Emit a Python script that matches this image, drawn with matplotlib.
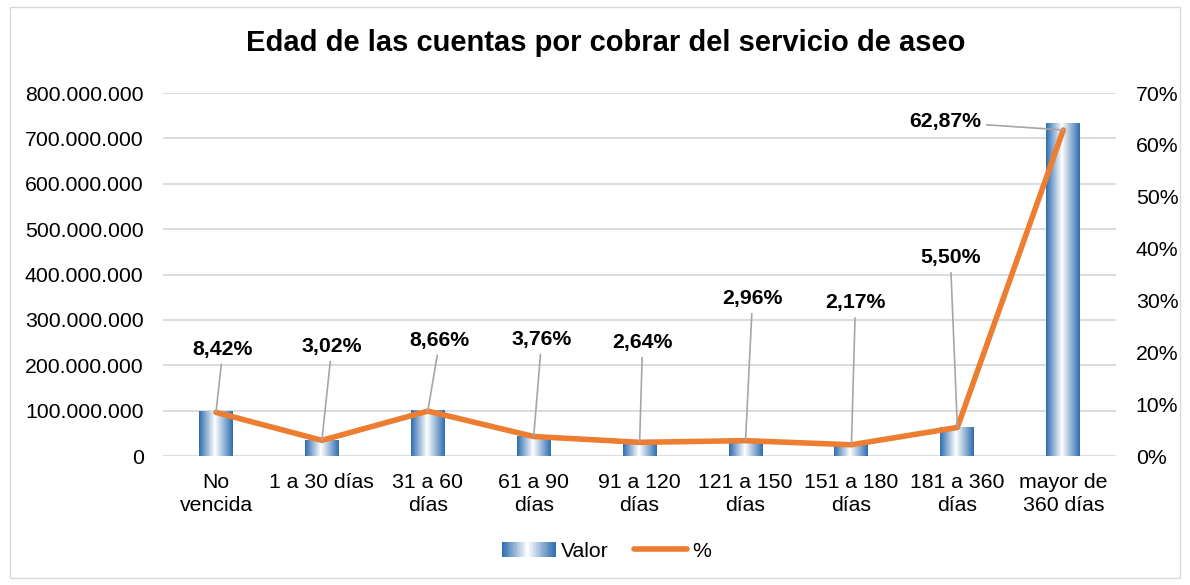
import numpy as np
import matplotlib
matplotlib.use("Agg")
import matplotlib.pyplot as plt
from matplotlib.colors import LinearSegmentedColormap
from matplotlib.patches import Rectangle
from matplotlib.lines import Line2D
from matplotlib.legend_handler import HandlerBase
from matplotlib.ticker import FuncFormatter

plt.rcParams['font.family'] = ['Liberation Sans', 'DejaVu Sans']

# datos
categorias = ["No\nvencida", "1 a 30 días", "31 a 60\ndías", "61 a 90\ndías",
              "91 a 120\ndías", "121 a 150\ndías", "151 a 180\ndías",
              "181 a 360\ndías", "mayor de\n360 días"]
valor = [98400000, 35300000, 101200000, 43900000, 30800000,
         34600000, 25400000, 64200000, 734500000]
porcentaje = [8.42, 3.02, 8.66, 3.76, 2.64, 2.96, 2.17, 5.50, 62.87]

# desplazamiento de las etiquetas (pixeles)
offs = [(7, 63), (10, 94), (12, 71), (8, 97), (3, 100),
        (7, 142), (4, 142), (-7, 170), (-118, 8)]

azul = "#2E6DAF"
naranja = "#ED7D31"
cmap = LinearSegmentedColormap.from_list(
    "cil", [(0, azul), (0.47, "#FFFFFF"), (1, azul)])
grad = np.linspace(0, 1, 256).reshape(1, -1)

fs = 15.3

fig = plt.figure(figsize=(11.9, 5.85), dpi=100)
ax = fig.add_axes([0.137, 0.2205, 0.801, 0.6205])
ax2 = ax.twinx()

x = np.arange(len(categorias))
ancho = 0.32
barras = ax.bar(x, valor, width=ancho, color="none", edgecolor="none", zorder=2)
for b in barras:
    x0, y0 = b.get_x(), b.get_y()
    im = ax.imshow(grad, cmap=cmap, aspect="auto", zorder=2,
                   extent=[x0, x0 + b.get_width(), y0, y0 + b.get_height()])
    im.set_clip_path(b)

ax.set_xlim(-0.5, len(categorias) - 0.5)
ax.set_ylim(0, 800000000)
ax.set_yticks(np.arange(0, 800000001, 100000000))
ax.yaxis.set_major_formatter(FuncFormatter(lambda v, p: f"{int(v):,}".replace(",", ".")))
ax.grid(axis="y", color="#D9D9D9", lw=1.3, zorder=0)
ax.set_xticks(x)
ax.set_xticklabels(categorias, fontsize=fs, linespacing=1.3)
ax.tick_params(axis="both", length=0, labelsize=fs, colors="#000000", pad=12)
ax.tick_params(axis="y", pad=14)

ax2.plot(x, porcentaje, color=naranja, lw=4, solid_capstyle="round", zorder=3)
ax2.set_ylim(0, 70)
ax2.set_yticks(np.arange(0, 71, 10))
ax2.yaxis.set_major_formatter(FuncFormatter(lambda v, p: f"{int(v)}%"))
ax2.tick_params(axis="y", length=0, labelsize=fs, pad=14)

for a in (ax, ax2):
    for s in a.spines.values():
        s.set_visible(False)

for i, p in enumerate(porcentaje):
    dx, dy = offs[i]
    ax2.annotate(f"{p:.2f}%".replace(".", ","), xy=(i, p),
                 xytext=(dx, dy), textcoords="offset pixels",
                 ha="center", va="center", fontsize=fs, fontweight="bold",
                 arrowprops=dict(arrowstyle="-", color="#A6A6A6", lw=1.2,
                                 shrinkA=2, shrinkB=0), zorder=4)

fig.text(0.509, 0.926, "Edad de las cuentas por cobrar del servicio de aseo",
         ha="center", va="center", fontsize=21, fontweight="bold")


class HandlerGrad(HandlerBase):
    def create_artists(self, legend, orig, xd, yd, w, h, fs, trans):
        arts = []
        n = 30
        for k in range(n):
            c = cmap((k + 0.5) / n)
            arts.append(Rectangle((xd + w * k / n, yd), w / n + 0.3, h,
                                  facecolor=c, edgecolor="none", transform=trans))
        return arts


h_bar = Rectangle((0, 0), 1, 1)
h_lin = Line2D([], [], color=naranja, lw=4, solid_capstyle="round")
fig.legend([h_bar, h_lin], ["Valor", "%"], loc="center",
           bbox_to_anchor=(0.51, 0.058), ncol=2, frameon=False,
           fontsize=fs, handlelength=2.5, handletextpad=0.25,
           columnspacing=1.2, handler_map={Rectangle: HandlerGrad()})

fig.patches.append(Rectangle((0.008, 0.012), 0.984, 0.976, transform=fig.transFigure,
                             fill=False, edgecolor="#D9D9D9", lw=1))

fig.savefig("out.png", dpi=100)
